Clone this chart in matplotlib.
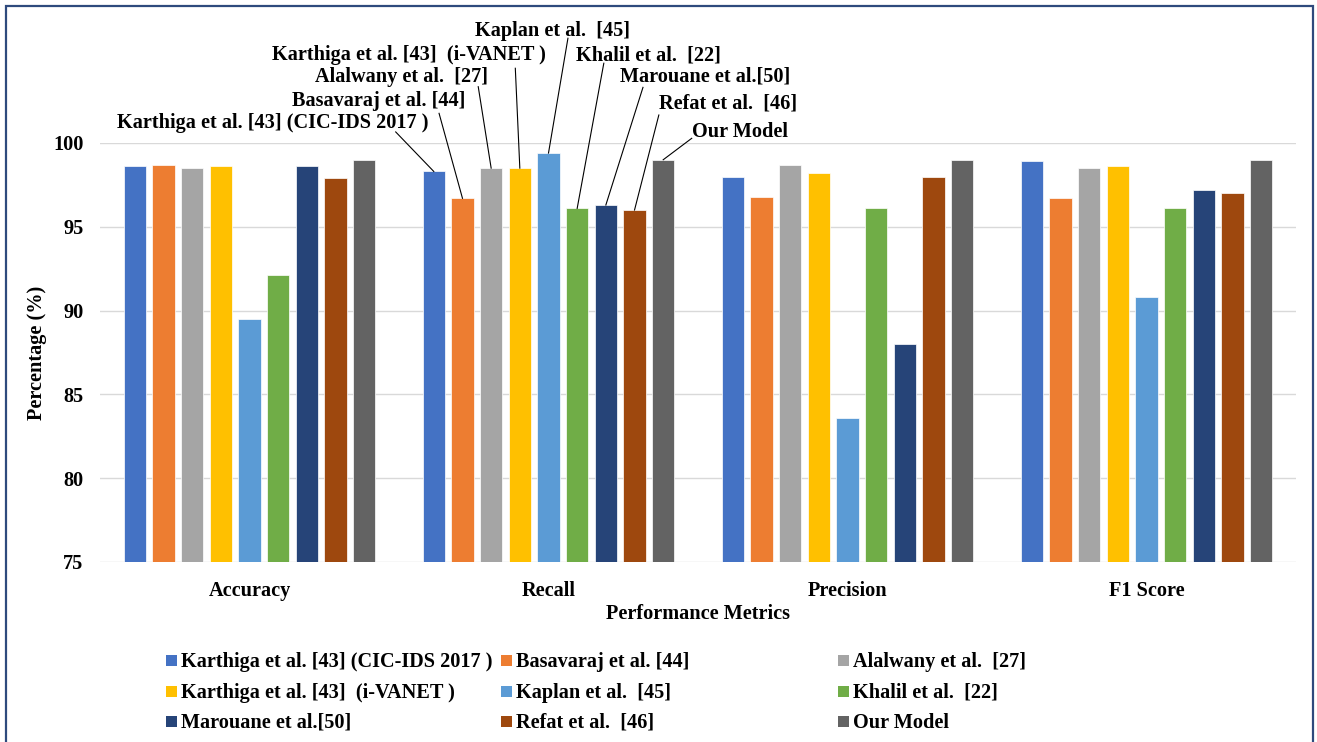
import matplotlib
matplotlib.use("Agg")
import matplotlib.pyplot as plt
import numpy as np
from matplotlib.patches import Rectangle

# ---- data -------------------------------------------------------------
metrics = ["Accuracy", "Recall", "Precision", "F1 Score"]

models = [
    "Karthiga et al. [43] (CIC-IDS 2017 )",
    "Basavaraj et al. [44]",
    "Alalwany et al.  [27]",
    "Karthiga et al. [43]  (i-VANET )",
    "Kaplan et al.  [45]",
    "Khalil et al.  [22]",
    "Marouane et al.[50]",
    "Refat et al.  [46]",
    "Our Model",
]

karthiga_cic = [98.6, 98.3, 98.0, 98.9]
basavaraj = [98.7, 96.7, 96.8, 96.7]
alalwany = [98.5, 98.5, 98.7, 98.5]
karthiga_ivanet = [98.6, 98.5, 98.2, 98.6]
kaplan = [89.5, 99.4, 83.6, 90.8]
khalil = [92.1, 96.1, 96.1, 96.1]
marouane = [98.6, 96.3, 88.0, 97.2]
refat = [97.9, 96.0, 98.0, 97.0]
our_model = [99.0, 99.0, 99.0, 99.0]

series = [karthiga_cic, basavaraj, alalwany, karthiga_ivanet, kaplan,
          khalil, marouane, refat, our_model]

colors = ["#4472C4", "#ED7D31", "#A5A5A5", "#FFC000", "#5B9BD5",
          "#70AD47", "#264478", "#9E480E", "#636363"]

y_ticks = [75, 80, 85, 90, 95, 100]

# ---- figure -----------------------------------------------------------
W, H = 1317, 742
fig = plt.figure(figsize=(W / 100, H / 100), dpi=100)
FONT = dict(family="Liberation Serif", weight="bold", size=14.6)

ax = fig.add_axes([100 / W, 1 - 562 / H, 1196 / W, 419 / H])

x = np.arange(len(metrics))
pitch = 0.0959
width = 0.0742
n = len(series)
for i, (vals, col) in enumerate(zip(series, colors)):
    ax.bar(x + (i - (n - 1) / 2) * pitch, vals, width=width, color=col,
           edgecolor="white", linewidth=0.5, zorder=3, label=models[i])

ax.set_xlim(-0.5, len(metrics) - 0.5)
ax.set_ylim(75, 100)
ax.set_yticks(y_ticks)
ax.set_yticklabels([str(t) for t in y_ticks], fontdict=FONT)
ax.set_xticks(x)
ax.set_xticklabels(metrics, fontdict=FONT)
ax.tick_params(axis="both", length=0)
ax.tick_params(axis="y", pad=12)
ax.tick_params(axis="x", pad=14)
ax.grid(axis="y", color="#D9D9D9", linewidth=1.0, zorder=0)
for s in ax.spines.values():
    s.set_visible(False)

ax.set_xlabel("Performance Metrics", fontdict=FONT)
ax.xaxis.set_label_coords(0.5, -(614 - 562) / 419)
ax.xaxis.label.set_va("center")
ax.set_ylabel("Percentage (%)", fontdict=FONT)
ax.yaxis.set_label_coords((37 - 100) / 1196, 0.5)
ax.yaxis.label.set_va("center")

# ---- leader-line labels on the Recall group ---------------------------
recall_idx = 1
# (text centre x, text centre y, line start x, line start y) in data units
callouts = [
    (0.078, 101.18, 0.489, 100.66),
    (0.433, 102.53, 0.634, 101.77),
    (0.509, 103.96, 0.765, 103.36),
    (0.534, 105.25, 0.889, 104.46),
    (1.015, 106.70, 1.065, 106.25),
    (1.334, 105.25, 1.185, 104.76),
    (1.525, 103.96, 1.316, 103.32),
    (1.602, 102.33, 1.369, 101.67),
    (1.641, 100.67, 1.479, 100.28),
]
for i, (tx, ty, lx, ly) in enumerate(callouts):
    bx = recall_idx + (i - (n - 1) / 2) * pitch
    by = series[i][recall_idx]
    ax.text(tx, ty, models[i], ha="center", va="center", clip_on=False,
            fontdict=FONT, zorder=5)
    ax.plot([lx, bx], [ly, by], color="black", linewidth=0.8,
            clip_on=False, zorder=4)

# ---- legend (three fixed columns) -------------------------------------
col_x = [166, 501, 838]
row_y = [660, 691.5, 721.5]
sq = 11
for i, (name, col) in enumerate(zip(models, colors)):
    r, c = divmod(i, 3)
    x0, y0 = col_x[c], row_y[r]
    fig.patches.append(Rectangle((x0 / W, 1 - (y0 + sq / 2) / H), sq / W, sq / H,
                                 transform=fig.transFigure, facecolor=col,
                                 edgecolor="none"))
    fig.text((x0 + sq + 4) / W, 1 - (y0 + 6.5) / H, name, ha="left",
             va="baseline", fontdict=FONT)

# ---- outer frame --------------------------------------------------------
fig.patches.append(Rectangle((6 / W, -0.02), (1313 - 6) / W, 1 - 6 / H + 0.02,
                             transform=fig.transFigure, facecolor="none",
                             edgecolor="#2E4A7D", linewidth=1.6))

fig.savefig("out.png", dpi=100)
